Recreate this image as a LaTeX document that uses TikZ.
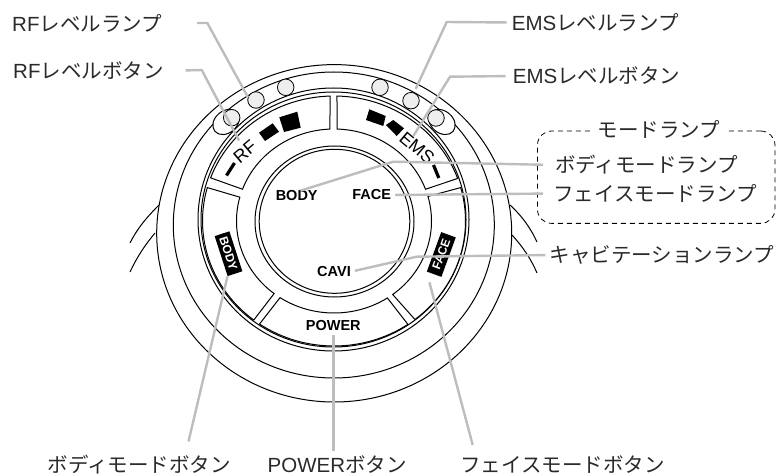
\documentclass[tikz,border=0pt]{standalone}
\usepackage{fontspec}
\setmainfont{Liberation Sans}
\newfontfamily\cjk{Noto Sans CJK JP}
\usetikzlibrary{calc}
\definecolor{leadergray}{HTML}{BDBDBD}
\definecolor{lampgray}{HTML}{EEEEEE}
\definecolor{labelink}{HTML}{2A2A2A}
\tikzset{
  ring/.style={draw=black, line width=1pt},
  btn/.style={draw=black, fill=white, line width=1pt},
  lamp/.style={circle, draw=black, fill=lampgray, line width=0.8pt, minimum size=16.5pt, inner sep=0pt},
  leader/.style={draw=leadergray, line width=2.4pt},
  partlabel/.style={font=\fontsize{20.5}{23}\selectfont, text=labelink, inner sep=0pt},
  keytext/.style={font=\fontsize{14.5}{16}\selectfont\bfseries, inner sep=0pt},
  panelmark/.style={font=\fontsize{18}{20}\selectfont, inner sep=0pt},
  tagtext/.style={font=\fontsize{12}{14}\selectfont\bfseries, text=white, fill=black, inner sep=0pt, minimum width=42pt, minimum height=15.5pt}
}
\begin{document}
\begin{tikzpicture}[x=1pt, y=-1pt]
\useasboundingbox (0,0) rectangle (776,476);

% Straps on both sides
\draw[ring] (159,205) .. controls (146,218) and (137,229) .. (130,243);
\draw[ring] (155,233) .. controls (145,245) and (137,257) .. (130,272);
\draw[ring] (510,205) .. controls (523,217) and (531,229) .. (537,242);
\draw[ring] (512,235) .. controls (523,247) and (531,259) .. (537,273);

% Outer body
\draw[ring, fill=white] (334.2,233.3) ellipse [x radius=177.5, y radius=168.7];
\draw[ring] (333.8,225) ellipse [x radius=160.5, y radius=153];

% Ovals behind the end lamps
\draw[ring, fill=white, rotate around={40:(226,122)}] (226,122) ellipse [x radius=14.5, y radius=11];
\draw[ring, fill=white, rotate around={-40:(442,122)}] (442,122) ellipse [x radius=14.5, y radius=11];

% Button ring
\draw[ring, fill=white] (333.5,219.5) ellipse [x radius=135.5, y radius=131.5];
\draw[ring] (333.5,219.5) ellipse [x radius=132.5, y radius=127.5];

% Buttons
\begin{scope}[shift={(334,221)}]
\foreach \oa/\ob/\ia/\ib in {200.2/268.3/200.2/267.6, 271.3/340.1/271.8/339.8, 127.6/195.5/127.9/195, 55.8/124.5/56.8/123.6, 344.5/412/344.5/413} {
    \draw[btn] (\oa:131.5 and 125) arc[start angle=\oa, end angle=\ob, x radius=131.5, y radius=125]
      -- (\ib:97.5 and 92) arc[start angle=\ib, end angle=\ia, x radius=97.5, y radius=92] -- cycle;
}
\end{scope}

% Centre
\draw[ring] (334.5,221.5) ellipse [x radius=79.5, y radius=75.5];
\draw[ring] (334.5,221.3) ellipse [x radius=75.3, y radius=72];

% Level lamps
\node[lamp] (rflampa) at (231.7,117.7) {};
\node[lamp] (rflampb) at (256,100) {};
\node[lamp] (rflampc) at (285.7,87.3) {};
\node[lamp] (emslampa) at (380,87.3) {};
\node[lamp] (emslampb) at (411,100.7) {};
\node[lamp] (emslampc) at (436,118) {};

% Level marks
\draw[line width=3.2pt] (226.5,175.5) -- (234.5,163);
\fill (259,132.7) -- (272.7,123.3) -- (279,131.7) -- (265,141) -- cycle;
\fill (279.3,117.3) -- (297.3,111.7) -- (300.7,127.7) -- (284,132) -- cycle;
\fill (366,120) -- (369.3,109.3) -- (385.7,116) -- (383.3,126) -- cycle;
\fill (386,125) -- (393.3,120) -- (404,128.3) -- (396.7,136) -- cycle;
\draw[line width=3.2pt] (433.5,165) -- (438.8,178);

% Panel texts
\node[panelmark, rotate=40] (rfmark) at (245,151.7) {RF};
\node[panelmark, rotate=-40] (emsmark) at (417,148) {EMS};
\node[keytext] (bodytext) at (296.7,196) {BODY};
\node[keytext] (facetext) at (371.7,195) {FACE};
\node[keytext] (cavitext) at (334,271.7) {CAVI};
\node[keytext] (powertext) at (333.3,326) {POWER};
\node[tagtext, rotate=-72] (bodytag) at (228.5,253.7) {BODY};
\node[tagtext, rotate=70] (facetag) at (441.3,254.5) {FACE};

% Mode lamp group
\node[draw, dashed, dash pattern=on 5pt off 4pt, line width=0.8pt, rounded corners=14pt, minimum width=237.5pt, minimum height=92.3pt, inner sep=0pt] (modebox) at (656.2,177.2) {};
\node[partlabel, fill=white, inner xsep=6pt] (modelabel) at (658.7,129.3) {\cjk モードランプ};

% Part labels
\node[partlabel, anchor=west] (rflamplabel) at (12,23) {RF{\cjk レベルランプ}};
\node[partlabel, anchor=west] (rfbtnlabel) at (13,71) {RF{\cjk レベルボタン}};
\node[partlabel, anchor=west] (emslamplabel) at (511.7,22.5) {EMS{\cjk レベルランプ}};
\node[partlabel, anchor=west] (emsbtnlabel) at (512.7,76) {EMS{\cjk レベルボタン}};
\node[partlabel, anchor=west] (bodylamplabel) at (555,165) {\cjk ボディモードランプ};
\node[partlabel, anchor=west] (facelamplabel) at (553,193.5) {\cjk フェイスモードランプ};
\node[partlabel, anchor=west] (cavilabel) at (549.3,255) {\cjk キャビテーションランプ};
\node[partlabel, anchor=west] (bodybtnlabel) at (47.5,464.5) {\cjk ボディモードボタン};
\node[partlabel, anchor=west] (powerlabel) at (267.5,464.5) {POWER{\cjk ボタン}};
\node[partlabel, anchor=west] (facebtnlabel) at (460,464.5) {\cjk フェイスモードボタン};

% Leader bends and free ends
\coordinate (rflampbend) at (207.3,23);
\coordinate (rfbtnbend) at (201.7,70);
\coordinate (emslampbend) at (446.7,22);
\coordinate (emsbtnbend) at (450,76.7);
\coordinate (emsbtnend) at (413.3,136);
\coordinate (bodylampbend) at (393.3,161.7);
\coordinate (cavibend) at (416.7,256.7);
\coordinate (bodybtnend) at (188.5,441.5);
\coordinate (facebtnend) at (472.7,445);

% Leaders
\draw[leader, shorten <=35pt] (rflamplabel.east) -- (rflampbend) -- (rflampb.160);
\draw[leader, shorten <=22pt, shorten >=6pt] (rfbtnlabel.east) -- (rfbtnbend) -- (rfmark);
\draw[leader, shorten <=5pt, shorten >=4pt] (emslamplabel.west) -- (emslampbend) -- (emslampb.70);
\draw[leader, shorten <=7pt] (emsbtnlabel.west) -- (emsbtnbend) -- (emsbtnend);
\draw[leader, shorten <=12pt] (bodylamplabel.west) -- (bodylampbend) -- (bodytext.55);
\draw[leader, shorten <=10pt, shorten >=4pt] (facelamplabel.west) -- (facetext.east);
\draw[leader, shorten <=4pt, shorten >=4pt] (cavilabel.west) -- (cavibend) -- (cavitext.east);
\draw[leader] (bodybtnend) -- (bodytag.south east);
\draw[leader, shorten <=4pt, shorten >=4pt] (powertext.south) -- (powertext.south |- powerlabel.north);
\draw[leader, shorten >=11pt] (facebtnend) -- (facetag.north west);

\end{tikzpicture}
\end{document}
